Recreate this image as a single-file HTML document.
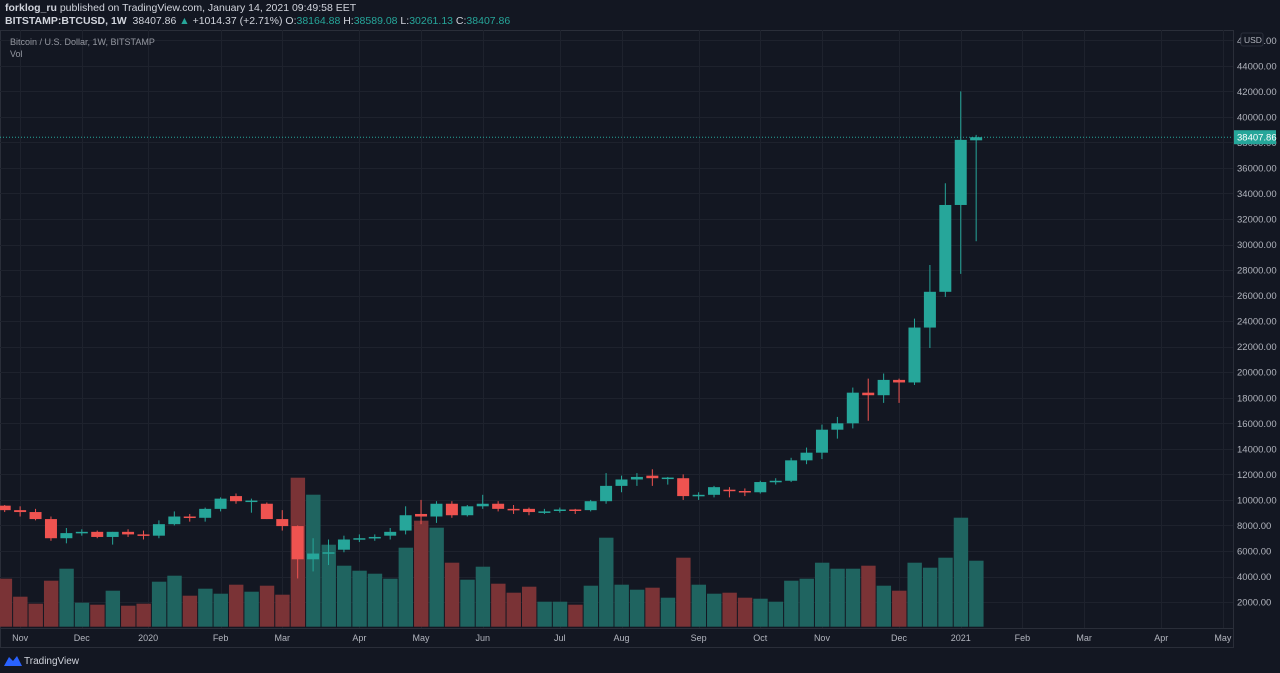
<!DOCTYPE html>
<html><head><meta charset="utf-8"><style>
html,body{margin:0;padding:0;background:#131722;width:1280px;height:673px;overflow:hidden;font-family:"Liberation Sans",sans-serif}
.hdr{position:absolute;left:5px;font-size:10.5px;color:#d1d4dc;white-space:nowrap}
.t{color:#26a69a}
</style></head><body>
<div class="hdr" style="top:2px"><b>forklog_ru</b> published on TradingView.com, January 14, 2021 09:49:58 EET</div>
<div class="hdr" style="top:15px"><b>BITSTAMP:BTCUSD, 1W</b>&nbsp; 38407.86 <span class="t">▲</span> +1014.37 (+2.71%) O:<span class="t">38164.88</span> H:<span class="t">38589.08</span> L:<span class="t">30261.13</span> C:<span class="t">38407.86</span></div>
<svg id="chart" width="1280" height="673" style="position:absolute;left:0;top:0"></svg>
<script>
const opens=[9550,9200,9050,8500,7000,7400,7500,7100,7500,7300,7200,8100,8700,8600,9300,10300,9900,9700,8500,7950,5350,5800,6100,6900,7000,7200,7600,8900,8700,9700,8800,9500,9700,9300,9300,9100,9150,9250,9200,9900,11100,11600,11900,11700,11700,10300,10400,10800,10700,10600,11400,11500,13100,13700,15500,16000,18400,18200,19400,19200,23500,26300,33100,38165];
const highs=[9600,9500,9300,8700,7800,7700,7600,7500,7700,7600,8400,9100,8900,9400,10200,10500,10100,9800,9200,8000,7000,6900,7200,7300,7300,7800,9500,10000,9900,9900,9600,10400,9900,9600,9400,9300,9400,9300,10000,12100,11900,12100,12400,11800,12000,10600,11100,11000,10900,11500,11700,13300,14100,15900,16500,18800,19500,19900,19500,24200,28400,34800,42000,38589];
const lows=[9050,8700,8400,6800,6600,7200,7000,6500,7100,6900,7000,8000,8300,8300,9100,9700,9000,8500,7600,3850,4400,4900,5900,6700,6800,6900,7300,8100,8200,8600,8700,9300,9100,8900,8800,8900,9000,8900,9100,9700,10600,11100,11100,11200,10000,10000,10200,10200,10300,10500,11200,11400,12800,13200,14800,15600,16200,17600,17600,19000,21900,25900,27700,30261];
const closes=[9200,9050,8500,7000,7400,7500,7100,7500,7300,7200,8100,8700,8600,9300,10100,9900,9950,8500,7950,5350,5800,5900,6900,7000,7100,7500,8800,8700,9700,8800,9500,9700,9300,9250,9050,9100,9250,9200,9900,11100,11600,11800,11700,11750,10300,10400,11000,10700,10600,11400,11500,13100,13700,15500,16000,18400,18200,19400,19200,23500,26300,33100,38200,38408];
const volumes=[48,30,23,46,58,24,22,36,21,23,45,51,31,38,33,42,35,41,32,149,132,82,61,56,53,48,79,106,99,64,47,60,43,34,40,25,25,22,41,89,42,37,39,29,69,42,33,34,29,28,25,46,48,64,58,58,61,41,36,64,59,69,109,66];
const priceTicks=[2000,4000,6000,8000,10000,12000,14000,16000,18000,20000,22000,24000,26000,28000,30000,32000,34000,36000,38000,40000,42000,44000];
const timeLabels=["Nov","Dec","2020","Feb","Mar","Apr","May","Jun","Jul","Aug","Sep","Oct","Nov","Dec","2021","Feb","Mar","Apr","May"];
const timeLabelIdx=[1,5,9.3,14,18,23,27,31,36,40,45,49,53,58,62,66,70,75,79];
const lastPrice=38407.86;

const NS="http://www.w3.org/2000/svg";
const svg=document.getElementById('chart');
const PLOT_R=1233, PLOT_T=30, PLOT_B=628;
const x=i=>4.7+15.42*i;
const y=p=>627.6-0.012768*p;
const yv=v=>626.7-v;
function mk(tag,attrs,parent){const e=document.createElementNS(NS,tag);for(const k in attrs)e.setAttribute(k,attrs[k]);(parent||svg).appendChild(e);return e;}

// frame
const frame=mk('rect',{x:0.5,y:PLOT_T+0.5,width:PLOT_R,height:PLOT_B-PLOT_T+19,fill:'none',stroke:'#2a2e39'});


const grid=mk('g',{});


priceTicks.concat([46000]).forEach(p=>{const yy=Math.round(y(p))+0.5;if(yy>PLOT_T)mk('line',{x1:0,x2:PLOT_R,y1:yy,y2:yy,stroke:'#1e222d'},grid);});
timeLabelIdx.forEach(i=>{const xx=Math.round(x(i))+0.5;mk('line',{x1:xx,x2:xx,y1:PLOT_T,y2:PLOT_B,stroke:'#1e222d'},grid);});
mk('line',{x1:PLOT_R+0.5,x2:PLOT_R+0.5,y1:PLOT_T,y2:PLOT_B+20,stroke:'#2a2e39'});
mk('line',{x1:0,x2:PLOT_R,y1:PLOT_B+0.5,y2:PLOT_B+0.5,stroke:'#2a2e39'});

// volumes
const vg=mk('g',{});


volumes.forEach((v,i)=>{const up=closes[i]>=opens[i];
 const r=mk('rect',{x:x(i)-7,y:yv(v),width:14.4,height:v,fill:up?'#1f6460':'#7a3336'},vg);
 
 });

// price line
mk('line',{x1:0,x2:PLOT_R,y1:y(lastPrice),y2:y(lastPrice),stroke:'#26a69a','stroke-dasharray':'1 2','stroke-width':1});

// candles
const cg=mk('g',{});


opens.forEach((o,i)=>{const c=closes[i];const up=c>=o;const col=up?'#26a69a':'#ef5350';
 const g=mk('g',{},cg);
 
 
 mk('line',{x1:x(i),x2:x(i),y1:y(highs[i]),y2:y(lows[i]),stroke:col,'stroke-width':1},g);
 const top=y(Math.max(o,c)),bot=y(Math.min(o,c));
 mk('rect',{x:x(i)-6,y:top,width:12,height:Math.max(bot-top,1.5),fill:col},g);});

// price axis
const pa=mk('g',{});


priceTicks.concat([46000]).forEach(p=>{const t=mk('text',{x:1237,y:y(p)+3.5,fill:'#b2b5be','font-size':9.5},pa);t.textContent=p.toFixed(2);});
const lb=mk('rect',{x:1234,y:y(lastPrice)-7,width:42,height:14,fill:'#26a69a'});


const lt=mk('text',{x:1237,y:y(lastPrice)+3.5,fill:'#fff','font-size':9.5});lt.textContent=lastPrice.toFixed(2);
const ub=mk('rect',{x:1241,y:33,width:22,height:13,fill:'#131722',stroke:'#2a2e39',rx:2});


const ut=mk('text',{x:1244,y:43,fill:'#b2b5be','font-size':8.5});ut.textContent='USD';

// time axis
const ta=mk('g',{});


timeLabels.forEach((s,k)=>{const t=mk('text',{x:x(timeLabelIdx[k]),y:641,fill:'#b2b5be','font-size':9,'text-anchor':'middle'},ta);t.textContent=s;});

// legend
const l1=mk('text',{x:10,y:45,fill:'#9598a1','font-size':9});l1.textContent='Bitcoin / U.S. Dollar, 1W, BITSTAMP';


const l2=mk('text',{x:10,y:57,fill:'#9598a1','font-size':9});l2.textContent='Vol';



// logo
const lg=mk('g',{});


mk('path',{d:'M4 666 L9 657 L13 661 L17 656 L22 666 Z',fill:'#2962ff'},lg);
const tv=mk('text',{x:24,y:664,fill:'#d1d4dc','font-size':10},lg);tv.textContent='TradingView';
</script>
</body></html>
